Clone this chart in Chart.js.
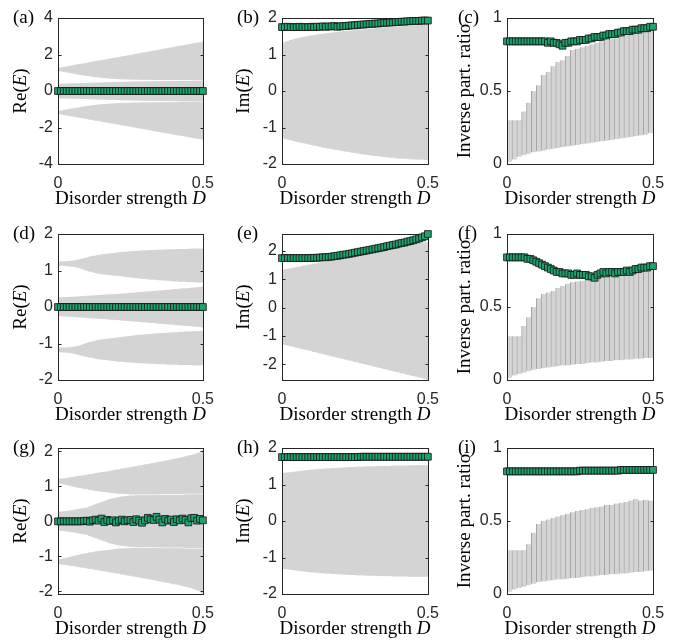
<!DOCTYPE html>
<html><head><meta charset="utf-8">
<script src="https://cdn.jsdelivr.net/npm/chart.js@4.4.1/dist/chart.umd.min.js"></script>
<style>
html,body{margin:0;padding:0;background:#fff;}
#wrap{position:relative;width:682px;height:640px;overflow:hidden;background:#fff;}
canvas{position:absolute;}
</style></head><body><div id="wrap"></div>
<script>
// ---------- data ----------
const D = [0,0.01,0.02,0.03,0.04,0.05,0.06,0.07,0.08,0.09,
 0.10,0.11,0.12,0.13,0.14,0.15,0.16,0.17,0.18,0.19,
 0.20,0.21,0.22,0.23,0.24,0.25,0.26,0.27,0.28,0.29,
 0.30,0.31,0.32,0.33,0.34,0.35,0.36,0.37,0.38,0.39,
 0.40,0.41,0.42,0.43,0.44,0.45,0.46,0.47,0.48,0.49,0.50];
const DI = [0.0083,0.025,0.0417,0.0583,0.075,0.0917,0.1083,0.125,0.1417,0.1583,
 0.175,0.1917,0.2083,0.225,0.2417,0.2583,0.275,0.2917,0.3083,0.325,
 0.3417,0.3583,0.375,0.3917,0.4083,0.425,0.4417,0.4583,0.475,0.4917];
const xTicks = [0, 0.5];
const yTicksA = [-4,-2,0,2,4];
const yTicksE2 = [-2,-1,0,1,2];
const yTicksB = [-2,-1,0,1,2];
const yTicksIPR = [0,0.5,1];

// (a) Re(E)
const aUpHi = [1.24,1.27,1.30,1.33,1.36,1.39,1.42,1.45,1.47,1.50, 1.53,1.56,1.59,1.62,1.65,1.67,1.70,1.73,1.76,1.79, 1.82,1.84,1.87,1.90,1.93,1.96,1.99,2.02,2.05,2.08, 2.10,2.13,2.16,2.19,2.22,2.25,2.28,2.31,2.34,2.37, 2.40,2.43,2.46,2.48,2.51,2.54,2.57,2.60,2.63,2.65, 2.68];
const aUpLo = [1.12,1.10,1.07,1.04,1.01,0.98,0.95,0.92,0.89,0.87, 0.84,0.82,0.80,0.78,0.76,0.74,0.73,0.71,0.70,0.69, 0.68,0.67,0.66,0.66,0.65,0.65,0.64,0.64,0.64,0.63, 0.63,0.63,0.63,0.62,0.62,0.62,0.62,0.62,0.62,0.62, 0.62,0.62,0.61,0.61,0.61,0.61,0.61,0.61,0.61,0.61, 0.61];
const aMidHi = [0.38,0.38,0.39,0.39,0.40,0.40,0.41,0.41,0.42,0.42, 0.43,0.43,0.44,0.44,0.45,0.45,0.46,0.46,0.47,0.47, 0.48,0.48,0.48,0.49,0.49,0.49,0.50,0.50,0.50,0.50, 0.51,0.51,0.51,0.51,0.51,0.52,0.52,0.52,0.52,0.52, 0.52,0.53,0.53,0.53,0.53,0.53,0.53,0.54,0.54,0.54, 0.54];
const aMidLo = [-0.38,-0.38,-0.39,-0.39,-0.40,-0.40,-0.41,-0.41,-0.42,-0.42, -0.43,-0.43,-0.44,-0.44,-0.45,-0.45,-0.46,-0.46,-0.47,-0.47, -0.48,-0.48,-0.49,-0.49,-0.49,-0.50,-0.50,-0.51,-0.51,-0.51, -0.52,-0.52,-0.52,-0.52,-0.53,-0.53,-0.53,-0.53,-0.54,-0.54, -0.54,-0.54,-0.54,-0.55,-0.55,-0.55,-0.55,-0.55,-0.56,-0.56, -0.56];
const aLoHi = [-1.11,-1.09,-1.06,-1.03,-1.00,-0.97,-0.94,-0.92,-0.89,-0.86, -0.84,-0.82,-0.80,-0.78,-0.76,-0.75,-0.73,-0.72,-0.71,-0.70, -0.69,-0.68,-0.67,-0.67,-0.66,-0.66,-0.65,-0.65,-0.65,-0.64, -0.64,-0.64,-0.64,-0.63,-0.63,-0.63,-0.63,-0.63,-0.63,-0.63, -0.63,-0.63,-0.62,-0.62,-0.62,-0.62,-0.62,-0.62,-0.62,-0.62, -0.62];
const aLoLo = [-1.23,-1.26,-1.29,-1.32,-1.35,-1.38,-1.41,-1.44,-1.46,-1.49, -1.52,-1.55,-1.58,-1.61,-1.63,-1.66,-1.69,-1.72,-1.75,-1.77, -1.80,-1.83,-1.86,-1.88,-1.91,-1.94,-1.97,-2.00,-2.03,-2.05, -2.08,-2.11,-2.14,-2.17,-2.20,-2.23,-2.26,-2.28,-2.31,-2.34, -2.37,-2.40,-2.42,-2.45,-2.48,-2.51,-2.54,-2.57,-2.59,-2.62, -2.65];
const aMk = [0,0,0,0,0,0,0,0,0,0, 0,0,0,0,0,0,0,0,0,0, 0,0,0,0,0,0,0,0,0,0, 0,0,0,0,0,0,0,0,0,0, 0,0,0,0,0,0,0,0,0,0, 0];

// (b) Im(E)
const bHi = [1.30,1.33,1.36,1.39,1.41,1.43,1.45,1.47,1.48,1.50, 1.51,1.52,1.54,1.55,1.56,1.57,1.58,1.59,1.60,1.61, 1.62,1.63,1.64,1.64,1.65,1.66,1.67,1.67,1.68,1.69, 1.70,1.70,1.71,1.72,1.72,1.73,1.74,1.74,1.75,1.75, 1.76,1.76,1.77,1.77,1.78,1.78,1.79,1.80,1.80,1.81, 1.82];
const bLo = [-1.28,-1.30,-1.32,-1.34,-1.36,-1.38,-1.40,-1.42,-1.43,-1.45, -1.47,-1.49,-1.50,-1.52,-1.54,-1.55,-1.57,-1.58,-1.60,-1.61, -1.62,-1.64,-1.65,-1.66,-1.68,-1.69,-1.70,-1.72,-1.73,-1.74, -1.75,-1.76,-1.77,-1.78,-1.79,-1.80,-1.81,-1.82,-1.82,-1.83, -1.84,-1.84,-1.85,-1.85,-1.86,-1.86,-1.87,-1.87,-1.87,-1.88, -1.88];
const bMk = [1.75,1.75,1.76,1.75,1.75,1.75,1.76,1.75,1.75,1.75, 1.76,1.75,1.76,1.76,1.77,1.76,1.77,1.77,1.78,1.76, 1.77,1.78,1.78,1.79,1.80,1.80,1.81,1.82,1.82,1.83, 1.84,1.84,1.85,1.85,1.86,1.87,1.87,1.88,1.88,1.89, 1.89,1.90,1.90,1.91,1.91,1.92,1.92,1.92,1.93,1.93, 1.93];

// (c) IPR
const cHi = [0.30,0.30,0.30,0.36,0.42,0.50,0.54,0.61,0.63,0.67, 0.70,0.71,0.74,0.78,0.79,0.80,0.81,0.82,0.83,0.84, 0.85,0.86,0.86,0.87,0.88,0.89,0.90,0.91,0.91,0.92];
const cLo = [0.015,0.03,0.05,0.06,0.07,0.08,0.085,0.09,0.10,0.105, 0.11,0.115,0.12,0.125,0.13,0.135,0.14,0.145,0.15,0.155, 0.16,0.165,0.17,0.175,0.18,0.185,0.19,0.195,0.20,0.21];
const cMk = [0.84,0.84,0.84,0.84,0.84,0.84,0.84,0.84,0.84,0.84, 0.84,0.84,0.84,0.84,0.83,0.84,0.83,0.83,0.82,0.81, 0.83,0.83,0.84,0.84,0.84,0.85,0.85,0.85,0.86,0.86, 0.87,0.87,0.87,0.88,0.88,0.89,0.89,0.89,0.90,0.90, 0.91,0.91,0.91,0.92,0.92,0.92,0.93,0.93,0.93,0.94, 0.94];

// (d) Re(E)
const dUpHi = [1.24,1.24,1.24,1.25,1.25,1.26,1.27,1.29,1.31,1.33, 1.35,1.37,1.39,1.40,1.42,1.43,1.44,1.45,1.46,1.47, 1.48,1.49,1.50,1.50,1.51,1.52,1.52,1.53,1.53,1.54, 1.54,1.55,1.55,1.55,1.56,1.56,1.56,1.57,1.57,1.57, 1.57,1.58,1.58,1.58,1.58,1.58,1.59,1.59,1.59,1.59, 1.59];
const dUpLo = [1.14,1.14,1.14,1.13,1.12,1.11,1.10,1.08,1.06,1.03, 1.00,0.98,0.96,0.94,0.92,0.91,0.90,0.89,0.88,0.87, 0.87,0.86,0.85,0.84,0.83,0.82,0.81,0.80,0.79,0.78, 0.78,0.77,0.76,0.76,0.75,0.74,0.74,0.73,0.73,0.72, 0.71,0.71,0.70,0.70,0.70,0.69,0.69,0.69,0.68,0.68, 0.68];
const dMidHi = [0.25,0.25,0.26,0.26,0.27,0.27,0.28,0.28,0.29,0.29, 0.30,0.30,0.31,0.31,0.32,0.32,0.33,0.33,0.34,0.34, 0.35,0.35,0.36,0.36,0.37,0.38,0.38,0.39,0.40,0.40, 0.41,0.42,0.42,0.43,0.44,0.44,0.45,0.46,0.46,0.47, 0.48,0.48,0.49,0.50,0.50,0.51,0.52,0.52,0.53,0.54, 0.55];
const dMidLo = [-0.23,-0.24,-0.25,-0.25,-0.26,-0.26,-0.27,-0.27,-0.28,-0.28, -0.29,-0.30,-0.30,-0.31,-0.31,-0.32,-0.32,-0.33,-0.34,-0.34, -0.35,-0.35,-0.36,-0.37,-0.37,-0.38,-0.39,-0.39,-0.40,-0.41, -0.41,-0.42,-0.43,-0.43,-0.44,-0.45,-0.45,-0.46,-0.47,-0.47, -0.48,-0.49,-0.49,-0.50,-0.51,-0.51,-0.52,-0.53,-0.53,-0.54, -0.55];
const dLoHi = [-1.12,-1.12,-1.12,-1.12,-1.11,-1.10,-1.09,-1.07,-1.05,-1.02, -0.99,-0.97,-0.95,-0.93,-0.91,-0.90,-0.89,-0.88,-0.87,-0.86, -0.85,-0.84,-0.83,-0.82,-0.81,-0.80,-0.79,-0.78,-0.77,-0.77, -0.76,-0.75,-0.75,-0.74,-0.73,-0.73,-0.72,-0.72,-0.71,-0.71, -0.70,-0.70,-0.69,-0.69,-0.68,-0.68,-0.68,-0.67,-0.67,-0.67, -0.66];
const dLoLo = [-1.23,-1.23,-1.24,-1.24,-1.25,-1.26,-1.28,-1.30,-1.32,-1.34, -1.36,-1.38,-1.39,-1.41,-1.42,-1.43,-1.44,-1.45,-1.46,-1.47, -1.48,-1.49,-1.49,-1.50,-1.51,-1.51,-1.52,-1.52,-1.53,-1.53, -1.54,-1.54,-1.55,-1.55,-1.55,-1.56,-1.56,-1.56,-1.57,-1.57, -1.57,-1.57,-1.58,-1.58,-1.58,-1.58,-1.58,-1.59,-1.59,-1.59, -1.59];
const dMk = [0,0,0,0,0,0,0,0,0,0, 0,0,0,0,0,0,0,0,0,0, 0,0,0,0,0,0,0,0,0,0, 0,0,0,0,0,0,0,0,0,0, 0,0,0,0,0,0,0,0,0,0, 0];

// (e) Im(E)
const eHi = [1.32,1.34,1.36,1.38,1.40,1.42,1.44,1.46,1.48,1.50, 1.52,1.54,1.56,1.58,1.60,1.62,1.64,1.66,1.68,1.70, 1.72,1.74,1.76,1.78,1.80,1.82,1.84,1.86,1.88,1.90, 1.92,1.94,1.96,1.98,2.00,2.02,2.04,2.06,2.08,2.10, 2.12,2.14,2.16,2.18,2.20,2.22,2.24,2.26,2.27,2.29, 2.30];
const eLo = [-1.27,-1.30,-1.32,-1.35,-1.37,-1.40,-1.42,-1.45,-1.47,-1.50, -1.52,-1.55,-1.57,-1.60,-1.62,-1.65,-1.67,-1.70,-1.72,-1.75, -1.77,-1.80,-1.82,-1.85,-1.87,-1.90,-1.92,-1.95,-1.97,-2.00, -2.02,-2.05,-2.07,-2.10,-2.12,-2.15,-2.17,-2.20,-2.22,-2.25, -2.27,-2.30,-2.32,-2.35,-2.37,-2.40,-2.42,-2.45,-2.47,-2.50, -2.53];
const eMk = [1.75,1.75,1.75,1.75,1.75,1.75,1.75,1.75,1.75,1.75, 1.75,1.76,1.76,1.77,1.78,1.78,1.79,1.80,1.82,1.83, 1.85,1.87,1.88,1.90,1.92,1.94,1.96,1.98,2.00,2.02, 2.04,2.06,2.08,2.10,2.12,2.14,2.17,2.19,2.21,2.23, 2.26,2.28,2.30,2.33,2.35,2.38,2.41,2.44,2.48,2.52, 2.60];

// (f) IPR
const fHi = [0.30,0.30,0.30,0.37,0.43,0.50,0.56,0.59,0.60,0.61, 0.63,0.645,0.66,0.67,0.675,0.68,0.685,0.70,0.705,0.71, 0.715,0.72,0.72,0.725,0.73,0.735,0.74,0.745,0.75,0.755];
const fLo = [0.015,0.03,0.04,0.05,0.06,0.07,0.075,0.08,0.085,0.09, 0.095,0.10,0.10,0.105,0.11,0.11,0.115,0.12,0.12,0.125, 0.13,0.13,0.135,0.135,0.14,0.14,0.145,0.145,0.15,0.15];
const fMk = [0.84,0.84,0.84,0.84,0.84,0.84,0.84,0.83,0.83,0.82, 0.81,0.80,0.79,0.78,0.77,0.76,0.75,0.74,0.74,0.73, 0.73,0.73,0.72,0.72,0.73,0.72,0.72,0.72,0.71,0.71, 0.70,0.72,0.73,0.74,0.73,0.74,0.74,0.73,0.74,0.74, 0.74,0.75,0.74,0.75,0.76,0.76,0.77,0.77,0.77,0.78, 0.78];

// (g) Re(E)
const gUpHi = [1.20,1.21,1.22,1.23,1.25,1.26,1.27,1.29,1.30,1.31, 1.33,1.34,1.35,1.37,1.38,1.40,1.41,1.42,1.44,1.45, 1.47,1.48,1.50,1.51,1.53,1.54,1.56,1.57,1.59,1.60, 1.62,1.63,1.65,1.66,1.68,1.70,1.71,1.73,1.74,1.76, 1.78,1.79,1.81,1.83,1.85,1.87,1.89,1.91,1.94,1.97, 2.02];
const gUpLo = [1.10,1.09,1.07,1.05,1.03,1.01,0.99,0.97,0.96,0.94, 0.93,0.91,0.90,0.88,0.87,0.86,0.85,0.84,0.83,0.82, 0.81,0.80,0.80,0.79,0.79,0.78,0.78,0.78,0.78,0.78, 0.78,0.78,0.78,0.78,0.78,0.79,0.79,0.79,0.79,0.79, 0.79,0.79,0.79,0.79,0.80,0.80,0.80,0.80,0.80,0.80, 0.80];
const gMidHi = [0.26,0.27,0.28,0.29,0.30,0.31,0.33,0.34,0.36,0.37, 0.39,0.42,0.45,0.48,0.51,0.54,0.57,0.60,0.63,0.65, 0.67,0.69,0.70,0.71,0.72,0.73,0.73,0.74,0.74,0.74, 0.74,0.74,0.74,0.74,0.74,0.75,0.75,0.75,0.75,0.75, 0.75,0.75,0.75,0.75,0.76,0.76,0.76,0.76,0.76,0.76, 0.76];
const gMidLo = [-0.25,-0.26,-0.27,-0.28,-0.29,-0.30,-0.32,-0.33,-0.35,-0.36, -0.38,-0.41,-0.44,-0.47,-0.50,-0.53,-0.56,-0.59,-0.62,-0.64, -0.66,-0.68,-0.69,-0.70,-0.71,-0.72,-0.72,-0.73,-0.73,-0.73, -0.73,-0.73,-0.73,-0.73,-0.73,-0.74,-0.74,-0.74,-0.74,-0.74, -0.74,-0.74,-0.74,-0.74,-0.75,-0.75,-0.75,-0.75,-0.75,-0.75, -0.75];
const gLoHi = [-1.10,-1.09,-1.07,-1.05,-1.03,-1.01,-0.99,-0.97,-0.95,-0.93, -0.92,-0.90,-0.89,-0.87,-0.86,-0.85,-0.84,-0.83,-0.82,-0.81, -0.80,-0.79,-0.79,-0.78,-0.78,-0.77,-0.77,-0.77,-0.77,-0.77, -0.77,-0.77,-0.77,-0.77,-0.77,-0.78,-0.78,-0.78,-0.78,-0.78, -0.78,-0.78,-0.78,-0.78,-0.79,-0.79,-0.79,-0.79,-0.79,-0.79, -0.79];
const gLoLo = [-1.21,-1.22,-1.23,-1.24,-1.26,-1.27,-1.28,-1.30,-1.31,-1.32, -1.34,-1.35,-1.36,-1.38,-1.39,-1.41,-1.42,-1.43,-1.45,-1.46, -1.48,-1.49,-1.51,-1.52,-1.54,-1.55,-1.57,-1.58,-1.60,-1.61, -1.63,-1.64,-1.66,-1.67,-1.69,-1.71,-1.72,-1.74,-1.75,-1.77, -1.79,-1.80,-1.82,-1.84,-1.86,-1.88,-1.90,-1.93,-1.96,-1.99, -2.05];
const gMk = [0,0,0,0,0,0,0,0,0,0.01, 0.02,-0.01,0.03,0.05,0.02,0.08,-0.02,0.04,0.01,0.03, -0.03,0.02,0.05,0.00,0.03,0.04,-0.02,0.06,0.02,-0.04, 0.03,0.10,0.06,0.04,0.13,0.05,-0.03,0.07,0.02,0.05, -0.02,0.06,0.03,0.08,0.04,-0.03,0.09,0.10,0.02,0.07, 0.03];

// (h) Im(E)
const hHi = [1.30,1.31,1.32,1.33,1.34,1.35,1.36,1.37,1.38,1.39, 1.40,1.40,1.41,1.42,1.42,1.43,1.43,1.44,1.44,1.45, 1.45,1.46,1.46,1.47,1.47,1.47,1.48,1.48,1.48,1.49, 1.49,1.49,1.49,1.50,1.50,1.50,1.50,1.50,1.51,1.51, 1.51,1.51,1.51,1.51,1.52,1.52,1.52,1.52,1.52,1.52, 1.52];
const hLo = [-1.30,-1.31,-1.32,-1.33,-1.34,-1.35,-1.36,-1.37,-1.38,-1.39, -1.40,-1.40,-1.41,-1.42,-1.42,-1.43,-1.43,-1.44,-1.44,-1.45, -1.45,-1.46,-1.46,-1.47,-1.47,-1.47,-1.48,-1.48,-1.48,-1.49, -1.49,-1.49,-1.49,-1.50,-1.50,-1.50,-1.50,-1.50,-1.51,-1.51, -1.51,-1.51,-1.51,-1.51,-1.52,-1.52,-1.52,-1.52,-1.52,-1.52, -1.52];
const hMk = [1.75,1.75,1.75,1.75,1.75,1.75,1.75,1.75,1.75,1.75, 1.75,1.75,1.75,1.75,1.75,1.75,1.75,1.75,1.75,1.75, 1.75,1.75,1.75,1.75,1.75,1.75,1.75,1.76,1.76,1.76, 1.76,1.76,1.76,1.76,1.76,1.76,1.76,1.76,1.76,1.76, 1.76,1.76,1.76,1.76,1.76,1.76,1.76,1.76,1.76,1.76, 1.76];

// (i) IPR
const iHi = [0.30,0.30,0.30,0.30,0.34,0.42,0.48,0.50,0.51,0.52, 0.53,0.54,0.55,0.56,0.57,0.575,0.58,0.59,0.595,0.60, 0.61,0.61,0.62,0.625,0.63,0.64,0.65,0.64,0.645,0.64];
const iLo = [0.015,0.03,0.04,0.05,0.06,0.07,0.08,0.085,0.09,0.095, 0.10,0.10,0.105,0.11,0.11,0.115,0.12,0.12,0.125,0.13, 0.13,0.135,0.135,0.14,0.14,0.145,0.15,0.15,0.155,0.16];
const iMk = [0.84,0.84,0.84,0.84,0.84,0.84,0.84,0.84,0.84,0.84, 0.84,0.84,0.84,0.84,0.84,0.84,0.84,0.84,0.84,0.84, 0.84,0.84,0.84,0.84,0.84,0.845,0.845,0.845,0.845,0.845, 0.845,0.845,0.845,0.845,0.845,0.845,0.845,0.845,0.845,0.85, 0.85,0.85,0.85,0.85,0.85,0.85,0.85,0.85,0.85,0.85, 0.85];

// ---------- text ----------
const xTitle = [['Disorder strength ', false], ['D', true]];
const reTitle = [['Re(', false], ['E', true], [')', false]];
const imTitle = [['Im(', false], ['E', true], [')', false]];
const iprTitle = [['Inverse part. ratio', false]];

// ---------- layout / style ----------
const SERIF = '"Liberation Serif", "Times New Roman", serif';
const SANS = '"Liberation Sans", Arial, sans-serif';
const PLOT_W = 146, PLOT_H = 146, Y_AXIS_W = 58, TOP_PAD = 18;
const GRAY = '#d4d4d4';
const GREEN = '#1fa36e';

function richWidth(ctx, segs, size) {
  let w = 0;
  for (const [t, it] of segs) { ctx.font = (it ? 'italic ' : '') + size + 'px ' + SERIF; w += ctx.measureText(t).width; }
  return w;
}
function drawRich(ctx, segs, x, y, size) {
  let cx = x - richWidth(ctx, segs, size) / 2;
  for (const [t, it] of segs) {
    ctx.font = (it ? 'italic ' : '') + size + 'px ' + SERIF;
    ctx.fillText(t, cx, y);
    cx += ctx.measureText(t).width;
  }
}

const framePlugin = {
  id: 'frame',
  beforeDatasetDraw(chart, args) {
    if (args.meta.type !== 'line') return;
    const {ctx, chartArea: a, scales} = chart;
    ctx.save();
    ctx.strokeStyle = '#262626';
    ctx.lineWidth = 1;
    const L = Math.round(a.left) + 0.5, R = Math.round(a.right) + 0.5, T = Math.round(a.top) + 0.5, B = Math.round(a.bottom) + 0.5;
    ctx.strokeRect(L, T, R - L, B - T);
    const tl = 3;
    ctx.beginPath();
    for (const t of scales.y.ticks) {
      const y = Math.round(scales.y.getPixelForValue(t.value)) + 0.5;
      ctx.moveTo(L, y); ctx.lineTo(L + tl, y);
      ctx.moveTo(R, y); ctx.lineTo(R - tl, y);
    }
    for (const t of scales.x.ticks) {
      const x = Math.round(scales.x.getPixelForValue(t.value)) + 0.5;
      ctx.moveTo(x, B); ctx.lineTo(x, B - tl);
      ctx.moveTo(x, T); ctx.lineTo(x, T + tl);
    }
    ctx.stroke();
    ctx.restore();
  },
  afterDraw(chart, args, opts) {
    const {ctx, chartArea: a} = chart;
    ctx.save();
    ctx.fillStyle = '#000';
    ctx.textBaseline = 'alphabetic';
    // panel label
    ctx.font = opts.fontSize + 'px ' + SERIF;
    ctx.textAlign = 'left';
    ctx.fillText(opts.label, opts.labelX, opts.labelY);
    // x title
    drawRich(ctx, opts.xTitle, (a.left + a.right) / 2, a.bottom + opts.xTitleDy, opts.fontSize);
    // y title
    ctx.translate(opts.yTitleX, (a.top + a.bottom) / 2);
    ctx.rotate(-Math.PI / 2);
    ctx.textBaseline = 'middle';
    drawRich(ctx, opts.yTitle, 0, 0, opts.fontSize);
    ctx.restore();
  }
};

function bandDataset(xs, lo, hi, ipr) {
  return {
    type: 'bar',
    data: xs.map((x, i) => ({x: x, y: [lo[i], hi[i]]})),
    backgroundColor: GRAY,
    borderColor: '#a2a2a2',
    borderWidth: ipr ? {left: 1, right: 0, top: 0, bottom: 0} : 0,
    borderSkipped: false,
    barPercentage: 1,
    categoryPercentage: 1,
    grouped: false,
    clip: 0,
    order: 2
  };
}
function markerDataset(ys) {
  return {
    type: 'line',
    data: D.map((x, i) => ({x: x, y: ys[i]})),
    showLine: false,
    pointStyle: 'rect',
    pointRadius: 4.8,
    pointBackgroundColor: GREEN,
    pointBorderColor: '#111',
    pointBorderWidth: 0.8,
    clip: false,
    order: 0
  };
}

const panels = [
  {label:'(a)', left:0,   top:0,   w:224, h:216, lx:13, ytx:21, yTitle:reTitle,  ymin:-4, ymax:4, yticks:yTicksA, xs:D,  bands:[[aUpLo,aUpHi],[aMidLo,aMidHi],[aLoLo,aLoHi]], mk:aMk},
  {label:'(b)', left:224, top:0,   w:225, h:216, lx:13, ytx:20, yTitle:imTitle,  ymin:-2, ymax:2, yticks:yTicksB, xs:D,  bands:[[bLo,bHi]], mk:bMk},
  {label:'(c)', left:449, top:0,   w:233, h:216, lx:9,  ytx:16, yTitle:iprTitle, ymin:0,  ymax:1, yticks:yTicksIPR, xs:DI, bands:[[cLo,cHi]], mk:cMk, ipr:true},
  {label:'(d)', left:0,   top:216, w:224, h:214, lx:13, ytx:21, yTitle:reTitle,  ymin:-2, ymax:2, yticks:yTicksB, xs:D,  bands:[[dUpLo,dUpHi],[dMidLo,dMidHi],[dLoLo,dLoHi]], mk:dMk},
  {label:'(e)', left:224, top:216, w:225, h:214, lx:13, ytx:20, yTitle:imTitle,  ymin:-2.55, ymax:2.6, yticks:yTicksE2, xs:D, bands:[[eLo,eHi]], mk:eMk},
  {label:'(f)', left:449, top:216, w:233, h:214, lx:9,  ytx:16, yTitle:iprTitle, ymin:0,  ymax:1, yticks:yTicksIPR, xs:DI, bands:[[fLo,fHi]], mk:fMk, ipr:true},
  {label:'(g)', left:0,   top:430, w:224, h:210, lx:13, ytx:21, yTitle:reTitle,  ymin:-2.08, ymax:2.1, yticks:yTicksB, xs:D, bands:[[gUpLo,gUpHi],[gMidLo,gMidHi],[gLoLo,gLoHi]], mk:gMk},
  {label:'(h)', left:224, top:430, w:225, h:210, lx:13, ytx:20, yTitle:imTitle,  ymin:-2, ymax:2, yticks:yTicksB, xs:D,  bands:[[hLo,hHi]], mk:hMk},
  {label:'(i)', left:449, top:430, w:233, h:210, lx:9,  ytx:16, yTitle:iprTitle, ymin:0,  ymax:1, yticks:yTicksIPR, xs:DI, bands:[[iLo,iHi]], mk:iMk, ipr:true}
];

const wrap = document.getElementById('wrap');
for (const p of panels) {
  const cv = document.createElement('canvas');
  cv.width = p.w; cv.height = p.h;
  cv.style.left = p.left + 'px'; cv.style.top = p.top + 'px';
  cv.style.width = p.w + 'px'; cv.style.height = p.h + 'px';
  wrap.appendChild(cv);
  const datasets = [markerDataset(p.mk)].concat(p.bands.map(b => bandDataset(p.xs, b[0], b[1], p.ipr)));
  new Chart(cv, {
    type: 'bar',
    data: {datasets},
    plugins: [framePlugin],
    options: {
      responsive: false, animation: false, devicePixelRatio: 1,
      events: [],
      layout: {padding: {top: TOP_PAD, right: p.w - Y_AXIS_W - PLOT_W, left: 0, bottom: 0}},
      plugins: {
        legend: {display: false}, tooltip: {enabled: false},
        frame: {label: p.label, labelX: p.lx, labelY: 23, yTitle: p.yTitle, yTitleX: p.ytx, xTitle: xTitle, xTitleDy: 40, fontSize: 19}
      },
      scales: {
        x: {
          type: 'linear', min: 0, max: 0.5, offset: false,
          grid: {display: false, drawTicks: false, offset: false}, border: {display: false},
          afterBuildTicks: s => { s.ticks = xTicks.map(v => ({value: v})); },
          afterFit: s => { s.height = p.h - TOP_PAD - PLOT_H; },
          ticks: {font: {family: SANS, size: 16}, color: '#262626', padding: 10, maxRotation: 0, autoSkip: false, callback: v => String(v)}
        },
        y: {
          type: 'linear', min: p.ymin, max: p.ymax,
          grid: {display: false, drawTicks: false}, border: {display: false},
          afterBuildTicks: s => { s.ticks = p.yticks.map(v => ({value: v})); },
          afterFit: s => { s.width = Y_AXIS_W; },
          ticks: {font: {family: SANS, size: 16}, color: '#262626', padding: 5, autoSkip: false, callback: v => String(v)}
        }
      }
    }
  });
}
</script></body></html>
